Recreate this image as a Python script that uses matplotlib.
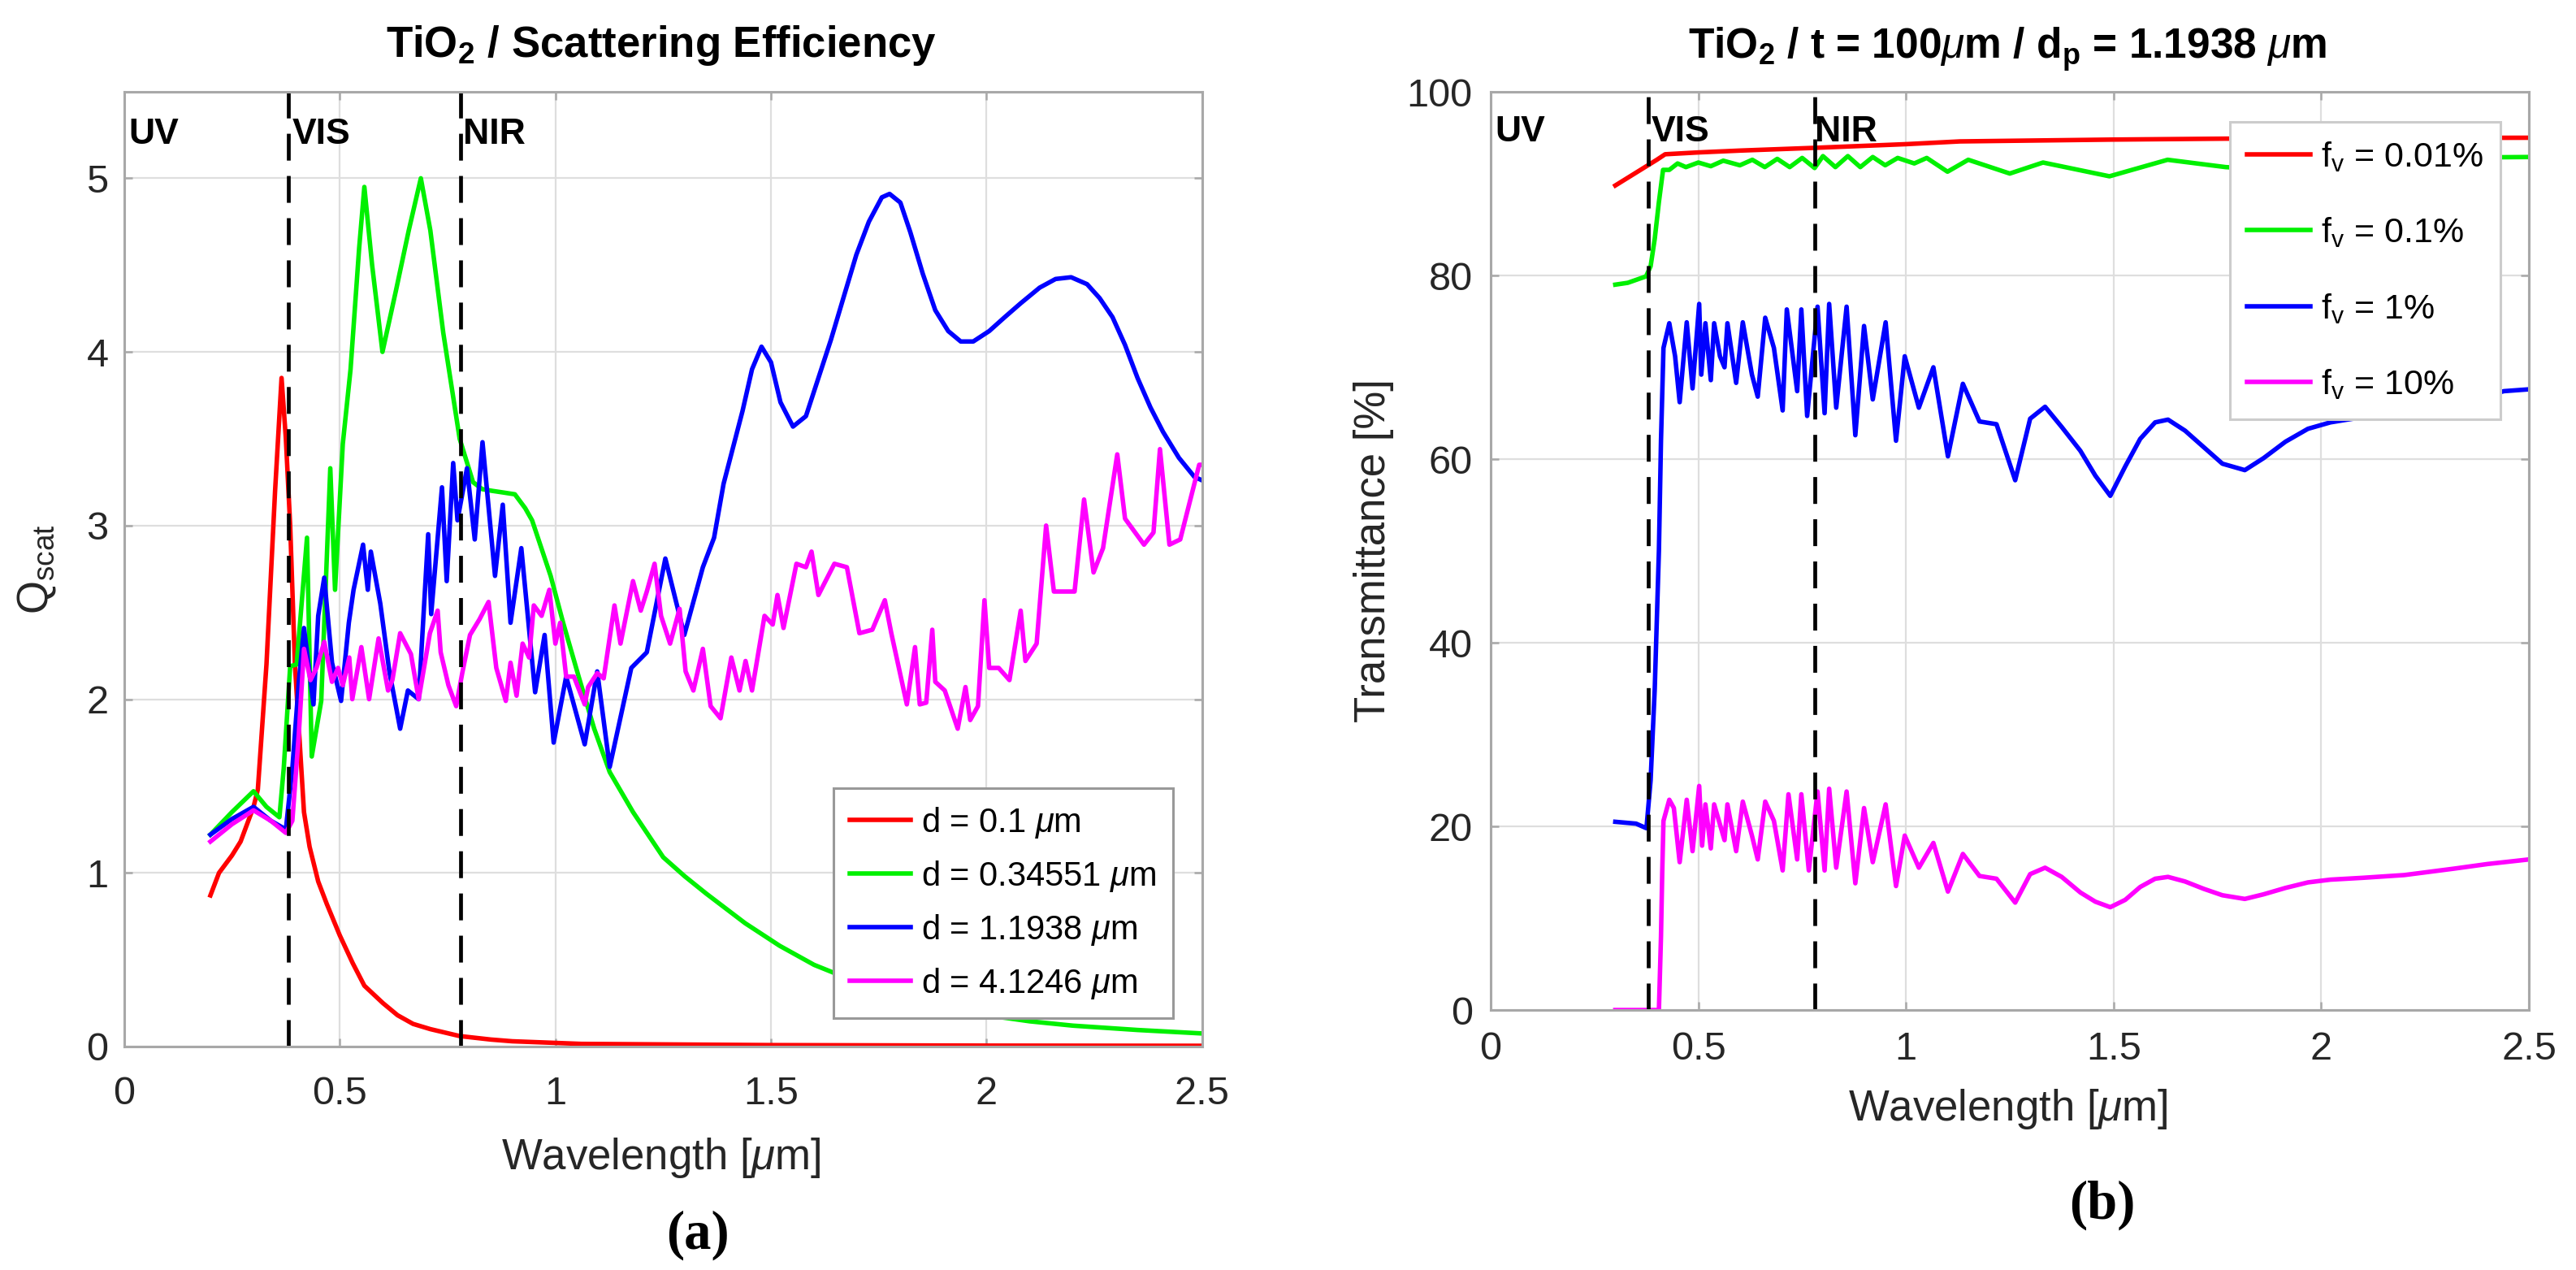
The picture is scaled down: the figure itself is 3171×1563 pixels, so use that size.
import matplotlib
matplotlib.use("Agg")
from matplotlib import pyplot as plt

plt.rcParams['font.family'] = ['Liberation Sans', 'DejaVu Sans']
plt.rcParams['mathtext.fontset'] = 'custom'
plt.rcParams['mathtext.rm'] = 'Liberation Sans'
plt.rcParams['mathtext.it'] = 'Liberation Sans:italic'
plt.rcParams['mathtext.bf'] = 'Liberation Sans:bold'

# ---- (a) scattering efficiency ----
red_x = [0.2, 0.22, 0.25, 0.27, 0.3, 0.31, 0.33, 0.35, 0.365, 0.375, 0.385, 0.396, 0.417, 0.43,
         0.45, 0.47, 0.5, 0.53, 0.557, 0.6, 0.634, 0.67, 0.71, 0.778, 0.85, 0.9, 1.06, 1.5, 2.0,
         2.5]
red_y = [0.87, 1.0, 1.1, 1.18, 1.38, 1.48, 2.2, 3.2, 3.85, 3.5, 3.0, 2.2, 1.35, 1.15,
         0.95, 0.82, 0.64, 0.48, 0.35, 0.25, 0.18, 0.13, 0.10, 0.06, 0.04, 0.03, 0.015, 0.008,
         0.005, 0.004]

green_x = [0.2, 0.25, 0.3, 0.33, 0.36, 0.37, 0.385, 0.4, 0.424, 0.435, 0.457, 0.478, 0.489, 0.507,
           0.525, 0.545, 0.557, 0.575, 0.599, 0.63, 0.66, 0.688, 0.71, 0.74, 0.778, 0.809, 0.83,
           0.853, 0.88, 0.906, 0.93, 0.946, 0.989, 1.018, 1.054, 1.09, 1.126, 1.18, 1.25, 1.3,
           1.35, 1.44, 1.52, 1.6, 1.7, 1.8, 1.9, 2.0, 2.1, 2.2, 2.35, 2.5]
green_y = [1.22, 1.35, 1.47, 1.38, 1.32, 1.6, 2.19, 2.2, 2.93, 1.67, 1.99, 3.33, 2.63, 3.47,
           3.9, 4.6, 4.95, 4.5, 4.0, 4.35, 4.7, 5.0, 4.7, 4.11, 3.5, 3.25, 3.21,
           3.2, 3.19, 3.18, 3.1, 3.03, 2.71, 2.44, 2.13, 1.83, 1.58, 1.35, 1.09, 0.98,
           0.88, 0.71, 0.58, 0.47, 0.37, 0.29, 0.23, 0.18, 0.145, 0.12, 0.095, 0.075]

blue_x = [0.2, 0.25, 0.3, 0.34, 0.375, 0.39, 0.405, 0.417, 0.439, 0.45, 0.464, 0.482, 0.503,
          0.521, 0.532, 0.554, 0.565, 0.572, 0.594, 0.615, 0.64, 0.658, 0.683, 0.705, 0.712,
          0.737, 0.748, 0.763, 0.773, 0.795, 0.813, 0.831, 0.86, 0.878, 0.896, 0.921, 0.953,
          0.975, 0.996, 1.025, 1.068, 1.097, 1.126, 1.176, 1.212, 1.255, 1.299, 1.342, 1.368,
          1.39, 1.434, 1.456, 1.478, 1.50, 1.522, 1.551, 1.581, 1.61, 1.639, 1.669, 1.698,
          1.727, 1.757, 1.775, 1.80, 1.823, 1.852, 1.881, 1.911, 1.94, 1.969, 2.006, 2.042,
          2.079, 2.123, 2.16, 2.196, 2.233, 2.262, 2.292, 2.321, 2.35, 2.38, 2.409, 2.446,
          2.482, 2.5]
blue_y = [1.22, 1.31, 1.38, 1.30, 1.25, 1.6, 2.1, 2.41, 1.97, 2.48, 2.70, 2.21, 1.99,
          2.44, 2.63, 2.89, 2.63, 2.85, 2.55, 2.16, 1.83, 2.05, 2.0, 2.95, 2.49,
          3.22, 2.68, 3.36, 3.03, 3.33, 2.92, 3.48, 2.71, 3.12, 2.44, 2.87, 2.04,
          2.37, 1.75, 2.13, 1.74, 2.16, 1.61, 2.18, 2.27, 2.81, 2.37, 2.76, 2.93,
          3.24, 3.66, 3.90, 4.03, 3.94, 3.71, 3.57, 3.63, 3.85, 4.07, 4.32, 4.56,
          4.75, 4.89, 4.91, 4.86, 4.69, 4.45, 4.24, 4.12, 4.06, 4.06, 4.12, 4.20,
          4.28, 4.37, 4.42, 4.43, 4.39, 4.31, 4.20, 4.04, 3.85, 3.68, 3.54, 3.39,
          3.28, 3.26]

mag_x = [0.2, 0.25, 0.3, 0.34, 0.375, 0.39, 0.405, 0.417, 0.432, 0.446, 0.464, 0.482, 0.496,
         0.507, 0.522, 0.529, 0.55, 0.568, 0.59, 0.612, 0.622, 0.64, 0.665, 0.683, 0.709,
         0.727, 0.734, 0.752, 0.77, 0.784, 0.802, 0.824, 0.845, 0.863, 0.885, 0.896, 0.91,
         0.924, 0.939, 0.95, 0.968, 0.986, 1.0, 1.011, 1.025, 1.043, 1.068, 1.076, 1.097,
         1.112, 1.137, 1.151, 1.18, 1.198, 1.212, 1.23, 1.245, 1.266, 1.288, 1.302, 1.32,
         1.342, 1.36, 1.383, 1.408, 1.427, 1.441, 1.456, 1.485, 1.504, 1.515, 1.529, 1.559,
         1.581, 1.594, 1.61, 1.647, 1.676, 1.705, 1.735, 1.764, 1.779, 1.815, 1.834, 1.845,
         1.86, 1.874, 1.881, 1.903, 1.933, 1.951, 1.962, 1.98, 1.995, 2.006, 2.028, 2.053,
         2.079, 2.09, 2.116, 2.138, 2.156, 2.204, 2.226, 2.248, 2.27, 2.303, 2.321, 2.365,
         2.387, 2.402, 2.424, 2.449, 2.493, 2.5]
mag_y = [1.18, 1.28, 1.36, 1.3, 1.23, 1.3, 1.8, 2.29, 2.11, 2.18, 2.33, 2.10, 2.18,
         2.08, 2.24, 2.0, 2.30, 2.0, 2.35, 2.05, 2.11, 2.38, 2.26, 2.0, 2.38,
         2.51, 2.27, 2.08, 1.96, 2.15, 2.37, 2.46, 2.56, 2.18, 1.99, 2.21, 2.02,
         2.32, 2.24, 2.54, 2.48, 2.63, 2.32, 2.44, 2.13, 2.13, 1.97, 2.07, 2.15,
         2.12, 2.54, 2.32, 2.68, 2.51, 2.62, 2.78, 2.48, 2.32, 2.52, 2.16, 2.05,
         2.29, 1.96, 1.89, 2.24, 2.05, 2.22, 2.05, 2.48, 2.43, 2.60, 2.41, 2.78,
         2.76, 2.85, 2.60, 2.78, 2.76, 2.38, 2.40, 2.57, 2.38, 1.97, 2.30, 1.97,
         1.98, 2.40, 2.10, 2.05, 1.83, 2.07, 1.88, 1.96, 2.57, 2.18, 2.18, 2.11,
         2.51, 2.22, 2.32, 3.0, 2.62, 2.62, 3.15, 2.73, 2.87, 3.41, 3.04, 2.89,
         2.96, 3.44, 2.89, 2.92, 3.35, 3.35]

labels_a = [r'd = 0.1 $\mu$m', r'd = 0.34551 $\mu$m', r'd = 1.1938 $\mu$m', r'd = 4.1246 $\mu$m']

# ---- (b) transmittance ----
tr_red_x = [0.3, 0.35, 0.4, 0.42, 0.5, 0.6, 0.78, 1.0, 1.13, 1.5, 1.77, 2.0, 2.5]
tr_red_y = [89.8, 91.2, 92.6, 93.2, 93.4, 93.6, 93.9, 94.3, 94.6, 94.8, 94.9, 94.95, 95.0]

tr_green_x = [0.3, 0.33, 0.374, 0.385, 0.395, 0.405, 0.415, 0.43, 0.45, 0.47, 0.5, 0.53, 0.56,
              0.6, 0.63, 0.66, 0.69, 0.72, 0.75, 0.78, 0.8, 0.83, 0.86, 0.89, 0.92, 0.95, 0.98,
              1.02, 1.05, 1.1, 1.15, 1.25, 1.33, 1.49, 1.63, 1.77, 1.85, 2.0, 2.2, 2.5]
tr_green_y = [79.0, 79.2, 79.9, 81.0, 84.0, 88.0, 91.5, 91.5, 92.2, 91.8, 92.3, 91.9, 92.5,
              92.0, 92.6, 91.8, 92.7, 91.8, 92.8, 91.7, 93.0, 91.8, 93.0, 91.8, 92.9, 92.0, 92.8,
              92.2, 92.8, 91.3, 92.6, 91.1, 92.3, 90.8, 92.6, 91.8, 91.6, 92.5, 92.8, 92.9]

tr_blue_x = [0.3, 0.35, 0.375, 0.385, 0.395, 0.405, 0.41, 0.416, 0.43, 0.444, 0.455, 0.472,
             0.486, 0.502, 0.507, 0.517, 0.53, 0.538, 0.552, 0.563, 0.57, 0.591, 0.607, 0.629,
             0.643, 0.661, 0.682, 0.703, 0.713, 0.738, 0.748, 0.762, 0.787, 0.804, 0.815, 0.832,
             0.857, 0.878, 0.899, 0.92, 0.951, 0.976, 0.997, 1.031, 1.066, 1.101, 1.137, 1.177,
             1.218, 1.263, 1.299, 1.335, 1.375, 1.42, 1.456, 1.492, 1.528, 1.564, 1.6, 1.631,
             1.672, 1.717, 1.762, 1.816, 1.861, 1.914, 1.968, 2.022, 2.076, 2.2, 2.35, 2.44, 2.5]
tr_blue_y = [20.5, 20.3, 19.8, 25.0, 35.0, 50.0, 62.0, 72.1, 74.8, 71.2, 66.2, 74.9,
             67.7, 76.9, 69.2, 74.8, 68.6, 74.8, 71.2, 70.0, 74.8, 68.3, 74.9, 69.2,
             66.8, 75.4, 72.1, 65.3, 76.3, 67.4, 76.3, 64.7, 76.6, 65.0, 76.9, 65.6,
             76.6, 62.6, 74.5, 66.5, 74.9, 62.0, 71.2, 65.6, 70.0, 60.3, 68.2, 64.1,
             63.8, 57.7, 64.4, 65.7, 63.5, 60.9, 58.2, 56.0, 59.2, 62.2, 64.0, 64.3,
             63.1, 61.3, 59.5, 58.8, 60.1, 61.9, 63.3, 64.0, 64.4, 65.0, 66.3, 67.4, 67.6]

tr_mag_x = [0.3, 0.405, 0.41, 0.413, 0.416, 0.43, 0.441, 0.455, 0.472, 0.486, 0.502, 0.509,
            0.517, 0.53, 0.538, 0.563, 0.57, 0.591, 0.607, 0.629, 0.643, 0.661, 0.682, 0.703,
            0.717, 0.738, 0.748, 0.766, 0.787, 0.804, 0.815, 0.832, 0.857, 0.878, 0.899, 0.92,
            0.951, 0.976, 0.997, 1.031, 1.066, 1.101, 1.137, 1.177, 1.218, 1.263, 1.299, 1.335,
            1.375, 1.42, 1.456, 1.492, 1.528, 1.564, 1.6, 1.631, 1.672, 1.717, 1.762, 1.816,
            1.861, 1.914, 1.968, 2.022, 2.1, 2.2, 2.32, 2.4, 2.5]
tr_mag_y = [0.0, 0.0, 8.0, 15.0, 20.6, 22.9, 22.0, 16.1, 22.9, 17.3, 24.4, 17.9,
            22.4, 17.6, 22.4, 18.5, 22.4, 17.3, 22.7, 19.0, 16.4, 22.7, 20.6, 15.2,
            23.5, 16.4, 23.5, 15.2, 23.8, 15.2, 24.1, 15.5, 23.8, 13.8, 22.0, 16.1,
            22.4, 13.5, 19.0, 15.5, 18.2, 12.9, 17.0, 14.6, 14.3, 11.7, 14.8, 15.5,
            14.5, 12.8, 11.8, 11.2, 12.0, 13.4, 14.3, 14.5, 14.0, 13.2, 12.5, 12.1,
            12.6, 13.3, 13.9, 14.2, 14.4, 14.7, 15.4, 15.9, 16.4]

labels_b = [r'f$_\mathrm{v}$ = 0.01%', r'f$_\mathrm{v}$ = 0.1%', r'f$_\mathrm{v}$ = 1%',
            r'f$_\mathrm{v}$ = 10%']

colors = ['#ff0000', '#00f000', '#0000ff', '#ff00ff']
regions = ['UV', 'VIS', 'NIR']
bounds = [0.38, 0.78]

fig = plt.figure(figsize=(31.71, 15.63), dpi=100)
ax1 = fig.add_axes([0.0482, 0.176, 0.4185, 0.752])
ax2 = fig.add_axes([0.5787, 0.2047, 0.403, 0.723])


def style(ax, yticks):
    ax.set_xlim(0, 2.5)
    ax.set_xticks([0, 0.5, 1, 1.5, 2, 2.5])
    ax.set_xticklabels(['0', '0.5', '1', '1.5', '2', '2.5'])
    ax.set_yticks(yticks)
    ax.grid(True, color='#dedede', lw=1.6)
    ax.set_axisbelow(True)
    for s in ax.spines.values():
        s.set_color('#a8a8a8')
        s.set_linewidth(2.2)
    ax.tick_params(direction='in', top=True, right=True, length=7, width=1.8,
                   color='#a8a8a8', labelsize=35, labelcolor='#262626')


# panel a
for xs, ys, c, lab in zip([red_x, green_x, blue_x, mag_x], [red_y, green_y, blue_y, mag_y],
                          colors, labels_a):
    ax1.plot(xs, ys, color=c, lw=4.0, label=lab)
for b in bounds:
    ax1.axvline(b, color='black', lw=3.4, ls=(0, (7, 4)))
style(ax1, [0, 1, 2, 3, 4, 5])
ax1.set_ylim(0, 5.5)
ax1.tick_params(axis='x', pad=26)
ax1.tick_params(axis='y', pad=14)
for t, xpos in zip(regions, [0.01, 0.39, 0.785]):
    ax1.text(xpos, 5.25, t, fontsize=32, fontweight='bold', va='center', ha='left')
ax1.text(0.498, 1.036, r'TiO$_\mathbf{2}$ / Scattering Efficiency', transform=ax1.transAxes,
         ha='center', va='baseline', fontsize=38, fontweight='bold')
ax1.set_xlabel(r'Wavelength [$\mu$m]', fontsize=38, color='#262626', va='center')
ax1.xaxis.set_label_coords(0.498, -0.1166)
ax1.set_ylabel(r'Q$_\mathrm{scat}$', fontsize=38, color='#262626', va='center')
ax1.yaxis.set_label_coords(-0.081, 0.5)
leg1 = ax1.legend(loc='lower right', bbox_to_anchor=(0.973, 0.03), borderaxespad=0,
                  fontsize=30, handlelength=1.8, handletextpad=0.3, labelspacing=0.55,
                  fancybox=False, framealpha=1, edgecolor='#999999', borderpad=0.5)
leg1.get_frame().set_linewidth(2.2)

# panel b
for xs, ys, c, lab in zip([tr_red_x, tr_green_x, tr_blue_x, tr_mag_x],
                          [tr_red_y, tr_green_y, tr_blue_y, tr_mag_y], colors, labels_b):
    ax2.plot(xs, ys, color=c, lw=4.0, label=lab)
for b in bounds:
    ax2.axvline(b, color='black', lw=3.4, ls=(0, (7, 4)))
style(ax2, [0, 20, 40, 60, 80, 100])
ax2.set_ylim(0, 100)
ax2.tick_params(axis='x', pad=19)
ax2.tick_params(axis='y', pad=16)
for t, xpos in zip(regions, [0.01, 0.387, 0.78]):
    ax2.text(xpos, 95.6, t, fontsize=32, fontweight='bold', va='center', ha='left')
ax2.text(0.498, 1.037, r'TiO$_\mathbf{2}$ / t = 100$\mu$m / d$_\mathbf{p}$ = 1.1938 $\mu$m',
         transform=ax2.transAxes, ha='center', va='baseline', fontsize=37, fontweight='bold')
ax2.set_xlabel(r'Wavelength [$\mu$m]', fontsize=38, color='#262626', va='center')
ax2.xaxis.set_label_coords(0.498, -0.108)
ax2.set_ylabel('Transmittance [%]', fontsize=38, color='#262626', va='center')
ax2.yaxis.set_label_coords(-0.113, 0.5)
leg2 = ax2.legend(loc='upper right', bbox_to_anchor=(0.9726, 0.967), borderaxespad=0,
                  fontsize=31, handlelength=1.8, handletextpad=0.3, labelspacing=1.2,
                  fancybox=False, framealpha=1, edgecolor='#cccccc', borderpad=0.5)
leg2.get_frame().set_linewidth(2.2)

fig.text(0.271, 0.0275, '(a)', family=['Liberation Serif', 'DejaVu Serif'], fontsize=48,
         fontweight='bold', ha='center', va='center')
fig.text(0.816, 0.051, '(b)', family=['Liberation Serif', 'DejaVu Serif'], fontsize=48,
         fontweight='bold', ha='center', va='center')

plt.savefig('out.png', dpi=100)
